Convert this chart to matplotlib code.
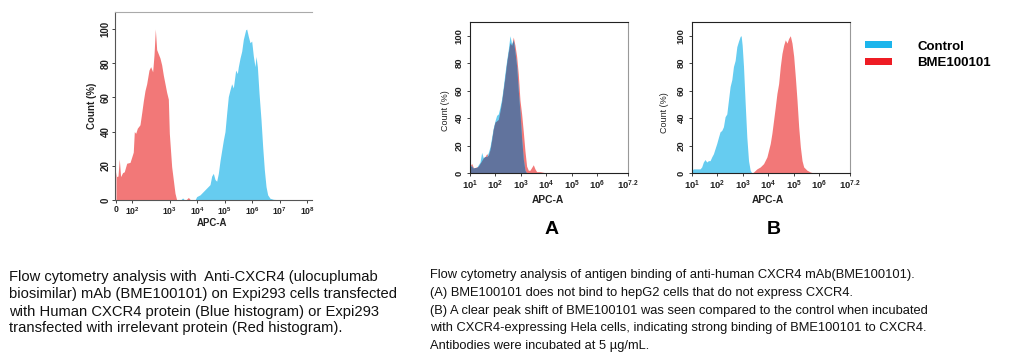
import numpy as np
import matplotlib
matplotlib.use("Agg")
import matplotlib.pyplot as plt
from matplotlib.patches import Patch
from matplotlib.ticker import FixedLocator, FixedFormatter, NullLocator

plt.rcParams['font.family'] = ['Liberation Sans', 'DejaVu Sans']
plt.rcParams['mathtext.fontset'] = 'custom'
plt.rcParams['mathtext.rm'] = 'Liberation Sans'
plt.rcParams['mathtext.bf'] = 'Liberation Sans:bold'
plt.rcParams['mathtext.default'] = 'bf'

# ---------------- data ----------------
# Panel 1: Expi293 cells, APC-A intensity vs Count (%)
p1_red_x = [0, 4, 12, 20, 28, 40, 50, 65, 85, 95, 105, 112, 122, 135, 159, 177, 196,
            217, 241, 278, 309, 349, 380, 412, 448, 507, 551, 611, 677, 751, 832,
            923, 982, 1186, 1567, 1803, 3900, 4800, 5800]
p1_red_y = [16.6, 13.7, 14, 24, 13.7, 16, 16.5, 21.5, 22, 25, 28, 40, 39, 42, 44, 51, 58,
            64, 68, 76, 78, 75, 85, 100, 88, 85, 83, 79, 73, 68, 63,
            59, 39, 19.5, 4, 0, 0, 1.5, 0]
p1_blue_x = [2500, 2970, 3500, 8370, 9620, 12700, 16800, 22200, 29400, 33800, 38800,
             44700, 51400, 59000, 67900, 78000, 89700, 103000, 119000, 136000,
             157000, 180000, 207000, 225000, 252000, 290000, 315000, 362000,
             417000, 479000, 582000, 634000, 728000, 837000, 962000, 1110000,
             1270000, 1380000, 1550000, 1780000, 2100000, 2420000, 2780000,
             3200000, 3670000, 4470000, 5900000, 13600000]
p1_blue_y = [0, 1.2, 0, 0, 2, 3, 5, 7, 9, 14, 15.6,
             12, 11, 15.6, 23, 29, 35, 40, 51, 60.5,
             64.5, 68, 65.5, 70, 76, 74, 78, 83,
             87, 94, 99.6, 100, 95.7, 92, 93, 84,
             78, 84, 78, 62.5, 47, 31, 17.6,
             7.8, 3, 1, 0.4, 0]
p1_ticks = [0, 1e2, 1e3, 1e4, 1e5, 1e6, 1e7, 1e8]
p1_ticklabels = ['0', r'$10^{2}$', r'$10^{3}$', r'$10^{4}$', r'$10^{5}$',
                 r'$10^{6}$', r'$10^{7}$', r'$10^{8}$']

# Panel A: hepG2 cells (shared APC-A grid for both series)
a_x = [10, 11.6, 13.5, 15.7, 18.2, 21.2, 24.7, 28.7, 33.3, 38.7, 45.1, 52.4, 60.8,
       70.8, 82.2, 95.5, 111, 129, 150, 175, 203, 236, 274, 318, 371, 431, 500,
       582, 676, 785, 914, 1062, 1236, 1435, 1667, 1941, 2254, 2618, 3048, 3540,
       4111, 5559, 7516, 10160, 18530]
a_control = [6, 5, 3.5, 4, 4, 6, 8, 15, 11, 12, 12, 15, 19,
             26, 33, 38, 42, 43, 48, 54, 63, 73, 82, 90, 100, 94, 97,
             88, 78, 60, 44, 25, 10, 2, 0, 0, 0, 0, 0, 0,
             0, 0, 0, 0, 0]
a_bme = [5, 7, 4, 4, 4.5, 5, 7, 9, 11, 12, 14, 13, 17,
         24, 32, 37, 38, 39, 45, 52, 61, 70, 80, 88, 95, 93, 99,
         93, 85, 72, 53, 43, 30, 16, 5, 2, 2, 4, 6, 3,
         1, 1, 0.5, 0, 0]

# Panel B: Hela cells
b_control_x = [10, 11.3, 15.3, 20.7, 24.0, 27.9, 32.5, 37.8, 44.0, 51.2, 59.4, 69.2,
               80.5, 93.5, 109, 126, 147, 171, 199, 232, 269, 313, 365, 424, 493,
               574, 667, 776, 849, 931, 1050, 1222, 1419, 1652, 1919, 2234]
b_control_y = [2, 3, 3, 3, 4.4, 8, 9.8, 8, 9, 9, 11.7, 14,
               17.8, 21.5, 26, 30, 31, 33.7, 41, 43, 53, 63, 68, 77.6, 82,
               92, 96, 99.5, 100, 93, 77.6, 50.7, 26, 9, 2, 0]
b_bme_x = [2234, 2600, 3516, 4753, 6427, 8710, 11770, 13680, 15920, 18530, 21530,
           25060, 29170, 33880, 39450, 45810, 53330, 62090, 72110, 83950, 97720,
           113500, 132100, 153500, 178600, 208000, 241500, 326600, 442600, 598400]
b_bme_y = [0, 0.7, 3, 4.4, 6.8, 11.7, 21.5, 29, 38.5, 48, 58,
           65, 77.6, 87, 93, 97, 94.6, 98, 100, 94.6, 85,
           70, 53, 33.7, 19, 9, 4.4, 2, 0.7, 0]
ab_ticks = [1e1, 1e2, 1e3, 1e4, 1e5, 1e6, 10 ** 7.2]
ab_ticklabels = [r'$10^{1}$', r'$10^{2}$', r'$10^{3}$', r'$10^{4}$', r'$10^{5}$',
                 r'$10^{6}$', r'$10^{7.2}$']
y_ticks = [0, 20, 40, 60, 80, 100]

legend_labels = ['Control', 'BME100101']
caption_left = [
    "Flow cytometry analysis with  Anti-CXCR4 (ulocuplumab",
    "biosimilar) mAb (BME100101) on Expi293 cells transfected",
    "with Human CXCR4 protein (Blue histogram) or Expi293",
    "transfected with irrelevant protein (Red histogram).",
]
caption_right = [
    "Flow cytometry analysis of antigen binding of anti-human CXCR4 mAb(BME100101).",
    "(A) BME100101 does not bind to hepG2 cells that do not express CXCR4.",
    "(B) A clear peak shift of BME100101 was seen compared to the control when incubated",
    "with CXCR4-expressing Hela cells, indicating strong binding of BME100101 to CXCR4.",
    "Antibodies were incubated at 5 \u00b5g/mL.",
]

# ---------------- style ----------------
RED = '#F27878'
BLUE = '#66CCF0'
OVERLAP = '#61739D'
LEG_BLUE = '#1CB5EC'
LEG_RED = '#EE1C24'

W, H = 1010, 361
fig = plt.figure(figsize=(W / 100, H / 100), dpi=100)


def box(l, t, r, b):
    return [l / W, 1 - b / H, (r - l) / W, (b - t) / H]


# logicle-like axis for panel 1 (0, then decades)
LOG_ANCH = [2, 3, 9]
POS_ANCH = [0.6, 1.95, 7.95]


def fwd(x):
    x = np.asarray(x, dtype=float)
    hi = np.interp(np.log10(np.clip(x, 100, None)), LOG_ANCH, POS_ANCH)
    lo = x / 100 * 0.6
    return np.where(x < 100, lo, hi)


def inv(p):
    p = np.asarray(p, dtype=float)
    hi = 10 ** np.interp(np.clip(p, 0.6, None), POS_ANCH, LOG_ANCH)
    lo = p / 0.6 * 100
    return np.where(p < 0.6, lo, hi)


def style(ax, xtick_fs, ytick_fs, ylab_fs, ylab_weight, xlab_fs, ypad, xpad):
    ax.set_ylim(0, 110)
    ax.yaxis.set_major_locator(FixedLocator(y_ticks))
    ax.yaxis.set_minor_locator(NullLocator())
    ax.xaxis.set_minor_locator(NullLocator())
    ax.tick_params(axis='both', direction='out', length=2.2, width=0.6, colors='#222222')
    ax.tick_params(axis='y', pad=ypad, labelsize=ytick_fs)
    ax.tick_params(axis='x', pad=xpad, labelsize=xtick_fs)
    for lab in ax.get_yticklabels():
        lab.set_rotation(90)
        lab.set_va('center')
        lab.set_ha('right')
        lab.set_fontweight('bold')
    for lab in ax.get_xticklabels():
        lab.set_fontweight('bold')
    ax.set_ylabel('Count (%)', fontsize=ylab_fs, fontweight=ylab_weight, color='#222222')
    ax.set_xlabel('APC-A', fontsize=xlab_fs, fontweight='bold', color='#222222')
    ax.xaxis.label.set_va('center')
    ax.yaxis.label.set_va('center')


# ---- panel 1 ----
ax1 = fig.add_axes(box(115, 12, 312, 200))
ax1.fill_between(p1_red_x, p1_red_y, color=RED, lw=0)
ax1.fill_between(p1_blue_x, p1_blue_y, color=BLUE, lw=0)
ax1.set_xscale('function', functions=(fwd, inv))
ax1.set_xlim(-6, 1.5e8)
ax1.xaxis.set_major_locator(FixedLocator(p1_ticks))
ax1.xaxis.set_major_formatter(FixedFormatter(p1_ticklabels))
style(ax1, 6.2, 7.0, 7.0, 'bold', 6.9, 1.0, 1.5)
ax1.spines['right'].set_visible(False)
ax1.spines['top'].set_color('#AAAAAA')
ax1.spines['top'].set_linewidth(0.8)
for s in ('left', 'bottom'):
    ax1.spines[s].set_color('#555555')
    ax1.spines[s].set_linewidth(0.8)
ax1.yaxis.set_label_coords(-0.117, 0.5)
ax1.xaxis.set_label_coords(0.49, -0.122)

# ---- panel A ----
axA = fig.add_axes(box(470, 22, 628, 173))
axA.fill_between(a_x, a_bme, color=RED, lw=0)
axA.fill_between(a_x, a_control, color=BLUE, lw=0)
axA.fill_between(a_x, np.minimum(a_control, a_bme), color=OVERLAP, lw=0)
axA.set_xscale('log')
axA.set_xlim(10, 10 ** 7.2)
axA.xaxis.set_major_locator(FixedLocator(ab_ticks))
axA.xaxis.set_major_formatter(FixedFormatter(ab_ticklabels))
style(axA, 6.8, 6.8, 6.5, 'normal', 7.4, 2.5, 2.0)
axA.yaxis.set_label_coords(-0.158, 0.41)
axA.xaxis.set_label_coords(0.49, -0.179)

# ---- panel B ----
axB = fig.add_axes(box(692, 22, 850, 173))
axB.fill_between(b_control_x, b_control_y, color=BLUE, lw=0)
axB.fill_between(b_bme_x, b_bme_y, color=RED, lw=0)
axB.set_xscale('log')
axB.set_xlim(10, 10 ** 7.2)
axB.xaxis.set_major_locator(FixedLocator(ab_ticks))
axB.xaxis.set_major_formatter(FixedFormatter(ab_ticklabels))
style(axB, 6.8, 6.8, 6.5, 'normal', 7.4, 2.5, 2.0)
axB.yaxis.set_label_coords(-0.171, 0.40)
axB.xaxis.set_label_coords(0.48, -0.179)

for ax in (axA, axB):
    for s in ('left', 'bottom', 'top'):
        ax.spines[s].set_color('#222222')
        ax.spines[s].set_linewidth(0.8)
    ax.spines['right'].set_color('#999999')
    ax.spines['right'].set_linewidth(0.8)

# panel letters
fig.text(552 / W, 1 - 230 / H, 'A', fontsize=14, fontweight='bold', ha='center', va='center')
fig.text(774 / W, 1 - 230 / H, 'B', fontsize=14, fontweight='bold', ha='center', va='center')

# legend
handles = [Patch(facecolor=LEG_BLUE, edgecolor='none'), Patch(facecolor=LEG_RED, edgecolor='none')]
fig.legend(handles, legend_labels, loc='upper left', bbox_to_anchor=(854 / W, 1 - 30 / H),
           frameon=False, prop={'weight': 'bold', 'size': 9.5},
           handlelength=2.1, handleheight=0.45, handletextpad=1.9, labelspacing=0.35,
           borderpad=0.3)

# captions
y_left = [277, 294.3, 311.7, 328.3]
for line, yy in zip(caption_left, y_left):
    fig.text(9 / W, 1 - yy / H, line, fontsize=10.6, ha='left', va='center', color='#111111')
y_right = [275, 293, 310.7, 328.3, 346]
for line, yy in zip(caption_right, y_right):
    fig.text(430 / W, 1 - yy / H, line, fontsize=9.3, ha='left', va='center', color='#111111')

fig.savefig('out.png', dpi=100)
